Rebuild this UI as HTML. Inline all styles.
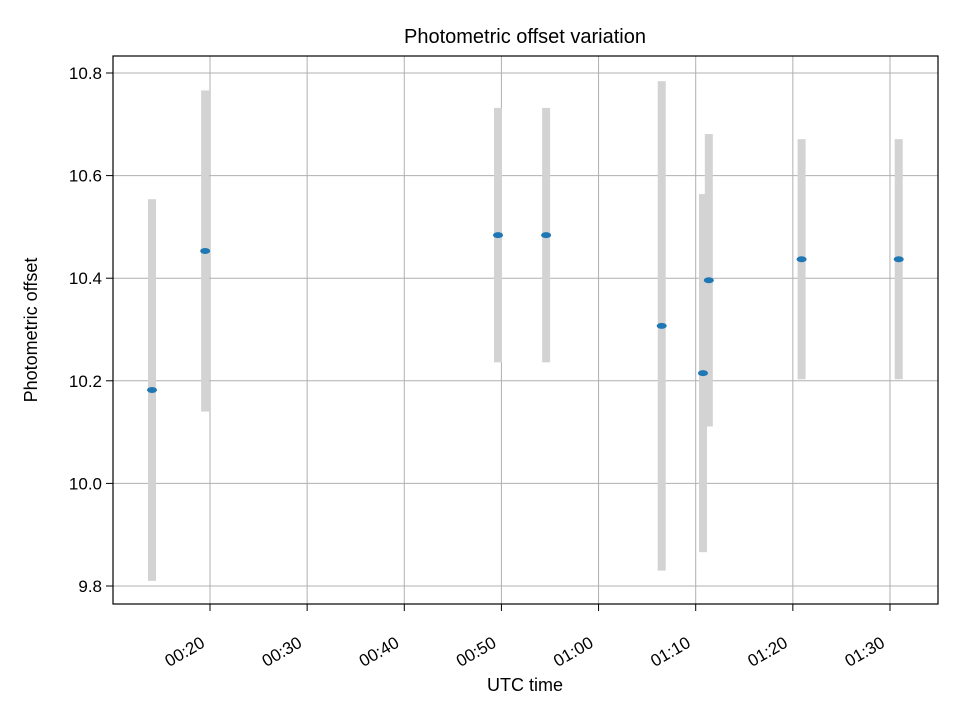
<!DOCTYPE html>
<html><head><meta charset="utf-8"><style>
body{margin:0;background:#fff;}
text{font-family:"Liberation Sans","DejaVu Sans",sans-serif;fill:#000;}
</style></head><body>
<svg id="chart" width="960" height="720" xmlns="http://www.w3.org/2000/svg">
<rect width="960" height="720" fill="#fff"/>
<text x="525" y="43" font-size="20" text-anchor="middle">Photometric offset variation</text>
<g id="grid"></g><g id="bars"></g><g id="points"></g><g id="ticks"></g>
<rect x="113" y="56" width="825" height="548" fill="none" stroke="#000" stroke-width="1.2"/>
<text x="525" y="691" font-size="18" text-anchor="middle">UTC time</text>
<text x="37" y="330" font-size="18" text-anchor="middle" transform="rotate(-90 37 330)">Photometric offset</text>
</svg>
<script>
const times=[14.03,19.5,49.65,54.6,66.5,70.75,71.35,80.9,90.9];
const values=[10.182,10.453,10.484,10.484,10.307,10.215,10.396,10.437,10.437];
const errors=[0.372,0.313,0.248,0.248,0.477,0.349,0.285,0.234,0.234];
const yTicks=[9.8,10.0,10.2,10.4,10.6,10.8];
const xTicks=[20,30,40,50,60,70,80,90];
const xTickLabels=["00:20","00:30","00:40","00:50","01:00","01:10","01:20","01:30"];
const NS="http://www.w3.org/2000/svg";
function X(m){return 210+(m-20)*9.714;}
function Y(v){return 73+(10.8-v)*513;}
function mk(tag,attrs,parent){const e=document.createElementNS(NS,tag);for(const k in attrs)e.setAttribute(k,attrs[k]);document.getElementById(parent).appendChild(e);return e;}
yTicks.forEach((t)=>{const y=Y(t);
const g=mk('line',{x1:113,x2:938,y1:y,y2:y,stroke:'#b0b0b0','stroke-width':1},'grid');


mk('line',{x1:106,x2:113,y1:y,y2:y,stroke:'#000'},'ticks');
const l=mk('text',{x:102,y:y+6,'font-size':17,'text-anchor':'end'},'ticks');l.textContent=t.toFixed(1);


});
xTicks.forEach((t,i)=>{const x=X(t);
const g=mk('line',{x1:x,x2:x,y1:56,y2:604,stroke:'#b0b0b0','stroke-width':1},'grid');


mk('line',{x1:x,x2:x,y1:604,y2:611,stroke:'#000'},'ticks');
const lx=x-4, ly=646;
const l=mk('text',{x:lx,y:ly,'font-size':17,'text-anchor':'end',transform:`rotate(-30 ${lx} ${ly})`},'ticks');l.textContent=xTickLabels[i];


});
times.forEach((t,i)=>{const x=X(t);
const b=mk('rect',{x:x-4,y:Y(values[i]+errors[i]),width:8,height:Y(values[i]-errors[i])-Y(values[i]+errors[i]),fill:'#d3d3d3'},'bars');


const p=mk('ellipse',{cx:x,cy:Y(values[i]),rx:5,ry:3,fill:'#1f77b4'},'points');


});
</script>
</body></html>
